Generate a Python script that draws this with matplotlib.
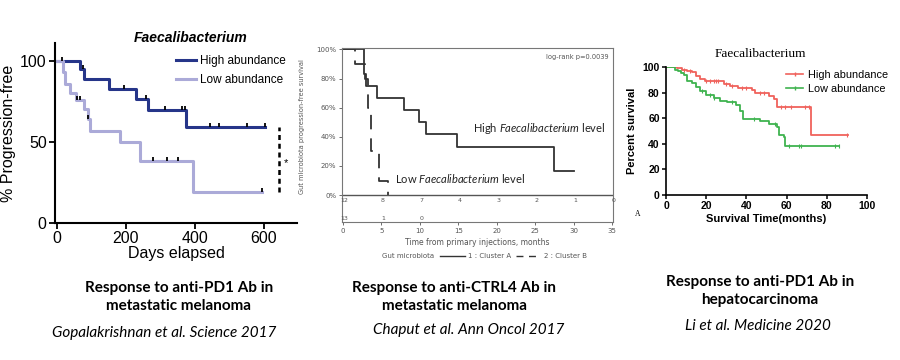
import matplotlib
matplotlib.use("Agg")
import matplotlib.pyplot as plt
from matplotlib.lines import Line2D
import numpy as np

plt.rcParams["mathtext.fontset"] = "custom"
plt.rcParams["mathtext.rm"] = "Lato"
plt.rcParams["mathtext.it"] = "Lato:italic"
plt.rcParams["mathtext.bf"] = "Lato:bold"

W, H = 900, 360

# ---- panel 1: Gopalakrishnan (days, % progression-free)
p1_high_days = [0, 66, 80, 150, 230, 264, 375, 603]
p1_high_surv = [100, 95, 88.5, 82.5, 76.3, 69.5, 59.3, 59.3]
p1_high_cens = [15, 75, 196, 259, 315, 364, 371, 443, 470, 550, 603]
p1_low_days = [0, 17, 25, 38, 55, 80, 90, 97, 184, 240, 395, 595]
p1_low_surv = [100, 93, 86, 80, 76, 70, 64, 57, 50, 38, 19, 19]
p1_low_cens = [58, 66, 90, 279, 318, 351, 595]

# ---- panel 2: Chaput (months, % PFS)
p2_a_months = [0, 2.74, 3.0, 4.4, 7.9, 9.9, 10.8, 14.8, 27.5, 30.1]
p2_a_surv = [100, 83.3, 75, 66.7, 58.3, 50, 41.7, 33.3, 16.7, 16.7]
p2_b_months = [0, 1.6, 2.9, 3.2, 3.7, 4.7, 5.9]
p2_b_surv = [100, 90, 80, 60, 30, 10, 0]
p2_risk_times = [0, 5, 10, 15, 20, 25, 30, 35]
p2_risk_a = [12, 8, 7, 4, 3, 2, 1, 0]
p2_risk_b = [13, 1, 0]

# ---- panel 3: Li (months, percent survival)
p3_high_months = [0, 5.5, 8, 10.4, 13, 15, 17, 19.6, 28.7, 32, 36, 42.8, 44.4, 51, 53.6, 55.2, 72.1, 90.5]
p3_high_pct = [100, 99, 98, 97, 96, 93, 90.6, 88.8, 87, 85.4, 83.5, 82, 79.6, 77, 75, 69, 46.5, 46.5]
p3_high_cens = [9, 12, 20, 22, 24, 25, 26, 30, 33, 38, 40, 47, 49, 57, 59, 62, 69, 71, 90]
p3_low_months = [0, 4.6, 6, 7.5, 8.8, 10.4, 13, 15, 17, 20, 23.7, 27, 30.3, 35, 37, 38.3, 46.6, 51, 55.2, 56, 58.5, 59.4, 86]
p3_low_pct = [100, 98, 96.5, 95, 94, 89, 87.5, 84, 81, 78, 75.7, 73.6, 72.3, 70.5, 65.3, 59, 57.5, 55.6, 53, 47, 45.7, 37.9, 37.9]
p3_low_cens = [18, 22, 24, 33, 44, 54, 61, 66, 67, 84, 86]

captions = [
    ("Response to anti-PD1 Ab in\nmetastatic melanoma", "Gopalakrishnan et al. Science 2017"),
    ("Response to anti-CTRL4 Ab in\nmetastatic melanoma", "Chaput et al. Ann Oncol 2017"),
    ("Response to anti-PD1 Ab in\nhepatocarcinoma", "Li et al. Medicine 2020"),
]


def box(l, t, r, b):
    # pixel box -> figure fraction
    return [l / W, 1 - b / H, (r - l) / W, (b - t) / H]


def step_at(times, surv, when):
    idx = np.searchsorted(times, when, side="right") - 1
    return np.array(surv)[idx]


fig = plt.figure(figsize=(9, 3.6), dpi=100)
fig.patch.set_facecolor("white")

# ================= panel 1
navy = "#263589"
lav = "#abaad8"
ax1 = fig.add_axes(box(55, 43, 297, 223))
ax1.step(p1_high_days, p1_high_surv, where="post", color=navy, lw=2.2)
ax1.step(p1_low_days, p1_low_surv, where="post", color=lav, lw=2.2)
ax1.plot(p1_high_cens, step_at(p1_high_days, p1_high_surv, p1_high_cens) + 1.2,
         ls="none", marker="|", ms=3, mew=1.3, color="black")
ax1.plot(p1_low_cens, step_at(p1_low_days, p1_low_surv, p1_low_cens) + 1.2,
         ls="none", marker="|", ms=3, mew=1.3, color="black")
ax1.plot([643, 643], [19, 59], ls=(0, (2, 1.5)), color="black", lw=1.8, clip_on=False)
ax1.text(664, 37, "*", fontsize=8, ha="center", va="center", family="Liberation Sans")
ax1.set_xlim(-5, 696)
ax1.set_ylim(0, 111)
ax1.set_xticks([0, 200, 400, 600])
ax1.set_yticks([0, 50, 100])
for s in ["top", "right"]:
    ax1.spines[s].set_visible(False)
for s in ["left", "bottom"]:
    ax1.spines[s].set_linewidth(1.5)
ax1.tick_params(length=4, width=1.3, labelsize=11.5, pad=2)
for lab in ax1.get_xticklabels() + ax1.get_yticklabels():
    lab.set_family("Liberation Sans")
ax1.set_xlabel("Days elapsed", fontsize=11.5, family="Liberation Sans", labelpad=0)
ax1.set_ylabel("% Progression-free", fontsize=11.5, family="Liberation Sans", labelpad=3)
ax1.set_title("Faecalibacterium", fontsize=10, weight="bold", style="italic",
              family="Liberation Sans", x=0.56, y=1.0, pad=1)
ax1.legend([Line2D([], [], color=navy, lw=2.2), Line2D([], [], color=lav, lw=2.2)],
           ["High abundance", "Low abundance"], loc="upper left",
           bbox_to_anchor=(176 / W, 1 - 55 / H), bbox_transform=fig.transFigure,
           frameon=False, borderpad=0, borderaxespad=0, handlelength=1.7,
           handletextpad=0.3, labelspacing=0.6,
           prop={"family": "Liberation Sans", "size": 8.5})

# ================= panel 2
gray = "#555555"
ax2 = fig.add_axes(box(342, 48, 613, 222))
ax2.step(p2_a_months, p2_a_surv, where="post", color="#333333", lw=1.3)
ax2.step(p2_b_months, p2_b_surv, where="post", color="#333333", lw=1.3, ls=(0, (8, 5)))
ax2.axhline(0, color=gray, lw=1.0)
for t, n in zip(p2_risk_times, p2_risk_a):
    ax2.text(t + 0.2, -3.5, str(n), fontsize=4.5, color=gray, ha="center", va="center")
for t, n in zip(p2_risk_times, p2_risk_b):
    ax2.text(t + 0.2, -15.8, str(n), fontsize=4.5, color=gray, ha="center", va="center")
ax2.set_xlim(-0.13, 35.13)
ax2.set_ylim(-18.5, 101)
ax2.set_xticks(range(0, 36, 5))
ax2.set_yticks(range(0, 101, 20))
ax2.set_yticklabels([f"{v}%" for v in range(0, 101, 20)])
for s in ax2.spines.values():
    s.set_color("#777777")
    s.set_linewidth(0.8)
ax2.tick_params(length=2, width=0.6, colors=gray, labelsize=5, pad=2)
ax2.text(0.985, 0.965, "log-rank p=0.0039", transform=ax2.transAxes, fontsize=4.8,
         color=gray, ha="right", va="top")
ax2.text(16.9, 46, "High $\\it{Faecalibacterium}$ level", fontsize=8,
         family="Lato", ha="left", va="center", color="#222222")
ax2.text(6.8, 11.6, "Low $\\it{Faecalibacterium}$ level", fontsize=8,
         family="Lato", ha="left", va="center", color="#222222")
ax2.set_xlabel("Time from primary injections, months", fontsize=5.5, color=gray, labelpad=3)
ax2.set_ylabel("Gut microbiota progression-free survival", fontsize=4.8, color=gray, labelpad=6)
ax2.yaxis.set_label_coords(-0.135, 0.55)
fig.text(382 / W, 1 - 256 / H, "Gut microbiota", fontsize=5, color=gray, va="center")
ax2.legend([Line2D([], [], color="#333333", lw=1.0),
            Line2D([], [], color="#333333", lw=1.0, ls=(0, (5, 4)))],
           ["1 : Cluster A", "2 : Cluster B"], ncol=2, loc="center left",
           bbox_to_anchor=(440 / W, 1 - 256 / H), bbox_transform=fig.transFigure,
           frameon=False, borderpad=0, borderaxespad=0, handlelength=3.6,
           handletextpad=0.4, columnspacing=0.8,
           prop={"size": 5}, labelcolor=gray)

# ================= panel 3
red = "#f0625c"
green = "#3fb34f"
ax3 = fig.add_axes(box(666, 67, 867, 195))
ax3.step(p3_high_months, p3_high_pct, where="post", color=red, lw=1.3)
ax3.step(p3_low_months, p3_low_pct, where="post", color=green, lw=1.3)
ax3.plot(p3_high_cens, step_at(p3_high_months, p3_high_pct, p3_high_cens),
         ls="none", marker="|", ms=3, mew=0.8, color=red)
ax3.plot(p3_low_cens, step_at(p3_low_months, p3_low_pct, p3_low_cens),
         ls="none", marker="|", ms=3, mew=0.8, color=green)
ax3.set_xlim(0, 100)
ax3.set_ylim(0, 100)
ax3.set_xticks(range(0, 101, 20))
ax3.set_yticks(range(0, 101, 20))
for s in ["top", "right"]:
    ax3.spines[s].set_visible(False)
for s in ["left", "bottom"]:
    ax3.spines[s].set_linewidth(1.2)
ax3.tick_params(length=3, width=1.1, labelsize=7.5, pad=1.5)
for lab in ax3.get_xticklabels() + ax3.get_yticklabels():
    lab.set_family("Liberation Sans")
    lab.set_weight("bold")
ax3.set_xlabel("Survival Time(months)", fontsize=8, weight="bold",
               family="Liberation Sans", labelpad=2)
ax3.set_ylabel("Percent survival", fontsize=8, weight="bold",
               family="Liberation Sans", labelpad=4)
ax3.set_title("Faecalibacterium", fontsize=9.5, family="Liberation Serif",
              x=0.47, pad=7)
ax3.text(635 / W, 1 - 214 / H, "A", transform=fig.transFigure, fontsize=5.5,
         family="Liberation Serif", va="center")
ax3.legend([Line2D([], [], color=red, lw=1.2, marker="|", ms=3),
            Line2D([], [], color=green, lw=1.2, marker="|", ms=3)],
           ["High abundance", "Low abundance"], loc="upper left",
           bbox_to_anchor=(786 / W, 1 - 70 / H), bbox_transform=fig.transFigure,
           frameon=False, borderpad=0, borderaxespad=0, handlelength=1.6,
           handletextpad=0.4, labelspacing=0.35,
           prop={"family": "Liberation Sans", "size": 7.8})

# ================= captions
cap_x = [179, 454, 760]
cap_y = [297, 297, 291]
cite_x = [164, 469, 758]
cite_y = [333, 330, 326]
for (head, cite), cx, cy, ix, iy in zip(captions, cap_x, cap_y, cite_x, cite_y):
    fig.text(cx / W, 1 - cy / H, head, ha="center", va="center", fontsize=11,
             weight="bold", family="Lato", linespacing=1.4)
    fig.text(ix / W, 1 - iy / H, cite, ha="center", va="center", fontsize=11,
             style="italic", family="Lato")

fig.savefig("out.png", dpi=100)
